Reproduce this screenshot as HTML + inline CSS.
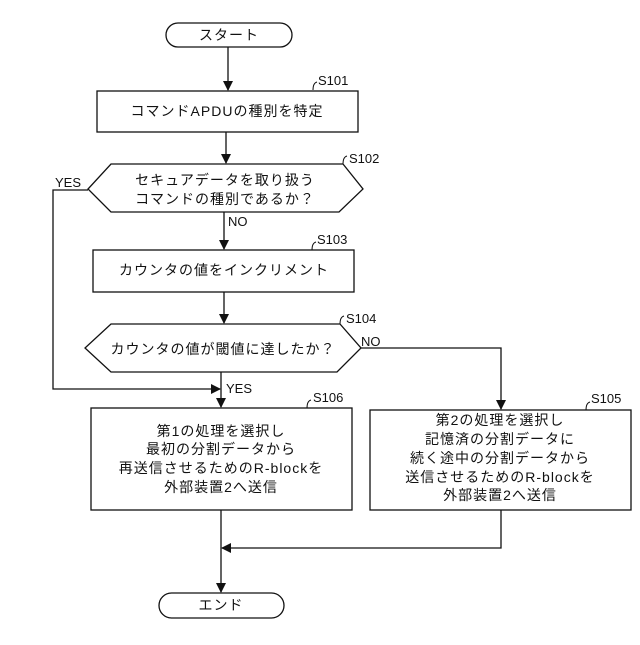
<!DOCTYPE html>
<html><head><meta charset="utf-8"><style>
body{margin:0;background:#fff}
svg text{font-family:"Liberation Sans","Noto Sans CJK JP",sans-serif;fill:#111}
.j{font-size:14px;letter-spacing:1px}
.l{font-size:13px}
</style></head><body>
<svg width="640" height="640" viewBox="0 0 640 640" xmlns="http://www.w3.org/2000/svg">
<defs><marker id="a" markerWidth="10" markerHeight="10" refX="9" refY="5" orient="auto" markerUnits="userSpaceOnUse"><path d="M0,0 L10,5 L0,10 z" fill="#111"/></marker></defs>
<g stroke="#111" stroke-width="1.3" fill="none">
<rect x="166" y="23" width="126" height="24" rx="12"/>
<line x1="228" y1="47" x2="228" y2="90" marker-end="url(#a)"/>
<rect x="97" y="91" width="261" height="41"/>
<line x1="226" y1="132" x2="226" y2="163" marker-end="url(#a)"/>
<polygon points="111,164 343,164 363,189 339,212 111,212 88,189"/>
<polyline points="88,190 53,190 53,389 220,389" marker-end="url(#a)"/>
<line x1="224" y1="212" x2="224" y2="249" marker-end="url(#a)"/>
<rect x="93" y="250" width="261" height="42"/>
<line x1="224" y1="292" x2="224" y2="323" marker-end="url(#a)"/>
<polygon points="111,324 340,324 361,348 337,372 111,372 85,348"/>
<polyline points="361,348 501,348 501,409" marker-end="url(#a)"/>
<line x1="221" y1="372" x2="221" y2="407" marker-end="url(#a)"/>
<rect x="91" y="408" width="261" height="102"/>
<rect x="370" y="410" width="261" height="100"/>
<polyline points="501,510 501,548 222,548" marker-end="url(#a)"/>
<line x1="221" y1="510" x2="221" y2="592" marker-end="url(#a)"/>
<rect x="159" y="593" width="125" height="25" rx="12.5"/>
<path d="M313,90 q0,-7 4,-8 M343,164 q0,-7 4,-8 M312,250 q0,-7 4,-8 M340,324 q0,-7 4,-8 M307,408 q0,-7 4,-8 M586,410 q0,-7 4,-8" stroke-width="1"/>
</g>
<g class="l">
<text x="318" y="85">S101</text>
<text x="349" y="163">S102</text>
<text x="317" y="244">S103</text>
<text x="346" y="323">S104</text>
<text x="313" y="402">S106</text>
<text x="591" y="403">S105</text>
<text x="55" y="187">YES</text>
<text x="228" y="226">NO</text>
<text x="361" y="346">NO</text>
<text x="226" y="393">YES</text>
</g>
<g class="j" text-anchor="middle">
<text x="229" y="40">スタート</text>
<text x="227" y="116">コマンドAPDUの種別を特定</text>
<text x="225" y="185">セキュアデータを取り扱う</text>
<text x="225" y="204">コマンドの種別であるか？</text>
<text x="224" y="275">カウンタの値をインクリメント</text>
<text x="223" y="354">カウンタの値が閾値に達したか？</text>
<text x="221" y="436">第1の処理を選択し</text>
<text x="221" y="454">最初の分割データから</text>
<text x="221" y="473">再送信させるためのR-blockを</text>
<text x="221" y="492">外部装置2へ送信</text>
<text x="500" y="425">第2の処理を選択し</text>
<text x="500" y="444">記憶済の分割データに</text>
<text x="500" y="463">続く途中の分割データから</text>
<text x="500" y="482">送信させるためのR-blockを</text>
<text x="500" y="500">外部装置2へ送信</text>
<text x="221" y="610">エンド</text>
</g>
</svg>
</body></html>
